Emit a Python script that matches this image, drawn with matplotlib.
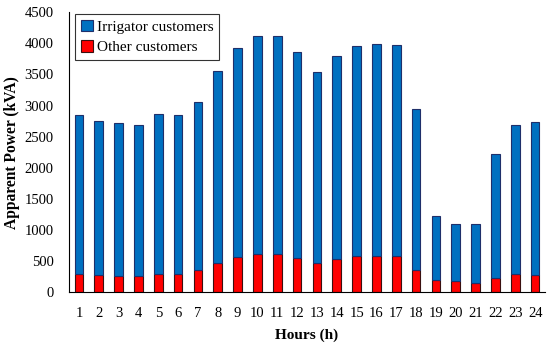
import matplotlib
matplotlib.use("Agg")
import matplotlib.pyplot as plt
import numpy as np

hours = list(range(1, 25))
total = [2840, 2755, 2712, 2695, 2872, 2846, 3056, 3550, 3932, 4115, 4120, 3855,
         3545, 3792, 3965, 3985, 3970, 2937, 1222, 1093, 1098, 2217, 2684, 2733]
other = [294, 268, 257, 257, 290, 284, 349, 467, 558, 615, 614, 542,
         467, 526, 574, 579, 574, 354, 198, 177, 140, 230, 290, 278]
irrigator = [t - o for t, o in zip(total, other)]

plt.rcParams['font.family'] = ['Liberation Serif', 'DejaVu Serif']

fig = plt.figure(figsize=(5.5, 3.47), dpi=100)
ax = fig.add_axes([0.1255, 0.1585, 0.8655, 0.806])

w = 0.44
ax.bar(hours, other, width=w, color='#FF0000', edgecolor='#3a1010', linewidth=0.8,
       label='Other customers', zorder=2)
ax.bar(hours, irrigator, width=w, bottom=other, color='#0070C0', edgecolor='#1F2F6A',
       linewidth=0.8, label='Irrigator customers', zorder=2)

ax.set_xlim(0.5, 24.5)
ax.set_ylim(0, 4500)
ax.set_yticks(np.arange(0, 4501, 500))
ax.set_xticks(hours)
ax.tick_params(axis='both', length=0, pad=11, labelsize=10.5)
for s in ['top', 'right']:
    ax.spines[s].set_visible(False)
ax.spines['left'].set_color('black')
ax.spines['bottom'].set_color('black')

ax.set_ylabel('Apparent Power (kVA)', fontsize=11.2, fontweight='bold', labelpad=3)
ax.set_xlabel('Hours (h)', fontsize=11, fontweight='bold', labelpad=6)

h, l = ax.get_legend_handles_labels()
leg = ax.legend(h[::-1], l[::-1], loc='upper left', bbox_to_anchor=(0.013, 0.994),
                fontsize=11, frameon=True, fancybox=False, edgecolor='black',
                handlelength=0.75, handleheight=0.75, handletextpad=0.25,
                borderpad=0.4, labelspacing=0.42, borderaxespad=0.0)
leg.get_frame().set_linewidth(0.8)

fig.savefig('out.png', dpi=100)
